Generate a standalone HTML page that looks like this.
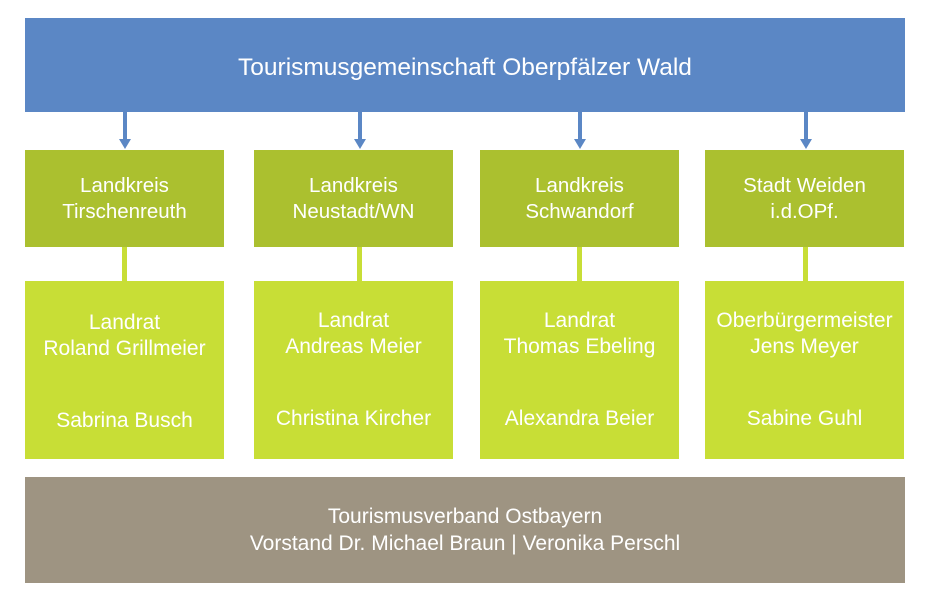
<!DOCTYPE html>
<html><head><style>
body{margin:0;width:933px;height:599px;background:#fff;position:relative;font-family:"Liberation Sans",sans-serif;color:#fff;overflow:hidden}
.b{position:absolute;display:flex;align-items:center;justify-content:center;text-align:center;flex-direction:column}
.t{background:#5b87c5;left:25px;top:18px;width:880px;height:88px;padding-top:6px;font-size:24.5px}
.k{background:#abc02f;top:150px;width:199px;height:97px;font-size:20.5px;line-height:26px}
.p{background:#c8de36;top:281px;width:199px;height:178px;font-size:21px;line-height:26px}
.g{background:#9e9482;left:25px;top:477px;width:880px;height:106px;font-size:21px;line-height:27px}
.c{position:absolute;top:247px;width:5px;height:34px;background:#c8de36}
.a{position:absolute;top:112px;width:4px;height:29px;background:#5b87c5}
.h{position:absolute;top:139px;width:0;height:0;border-left:6px solid transparent;border-right:6px solid transparent;border-top:10px solid #5b87c5}
</style></head><body>
<div class="b t">Tourismusgemeinschaft Oberpfälzer Wald</div>
<div class="a" style="left:123px"></div><div class="h" style="left:119px"></div>
<div class="a" style="left:358px"></div><div class="h" style="left:354px"></div>
<div class="a" style="left:578px"></div><div class="h" style="left:574px"></div>
<div class="a" style="left:804px"></div><div class="h" style="left:800px"></div>
<div class="b k" style="left:25px">Landkreis<br>Tirschenreuth</div>
<div class="b k" style="left:254px">Landkreis<br>Neustadt/WN</div>
<div class="b k" style="left:480px">Landkreis<br>Schwandorf</div>
<div class="b k" style="left:705px">Stadt Weiden<br>i.d.OPf.</div>
<div class="c" style="left:122px"></div>
<div class="c" style="left:357px"></div>
<div class="c" style="left:577px"></div>
<div class="c" style="left:803px"></div>
<div class="b p" style="left:25px;justify-content:flex-start"><div style="margin-top:29px">Landrat<br>Roland Grillmeier</div><div style="margin-top:46px">Sabrina Busch</div></div>
<div class="b p" style="left:254px;justify-content:flex-start"><div style="margin-top:27px">Landrat<br>Andreas Meier</div><div style="margin-top:46px">Christina Kircher</div></div>
<div class="b p" style="left:480px;justify-content:flex-start"><div style="margin-top:27px">Landrat<br>Thomas Ebeling</div><div style="margin-top:46px">Alexandra Beier</div></div>
<div class="b p" style="left:705px;justify-content:flex-start"><div style="margin-top:27px">Oberbürgermeister<br>Jens Meyer</div><div style="margin-top:46px">Sabine Guhl</div></div>
<div class="b g">Tourismusverband Ostbayern<br>Vorstand Dr. Michael Braun | Veronika Perschl</div>
</body></html>
